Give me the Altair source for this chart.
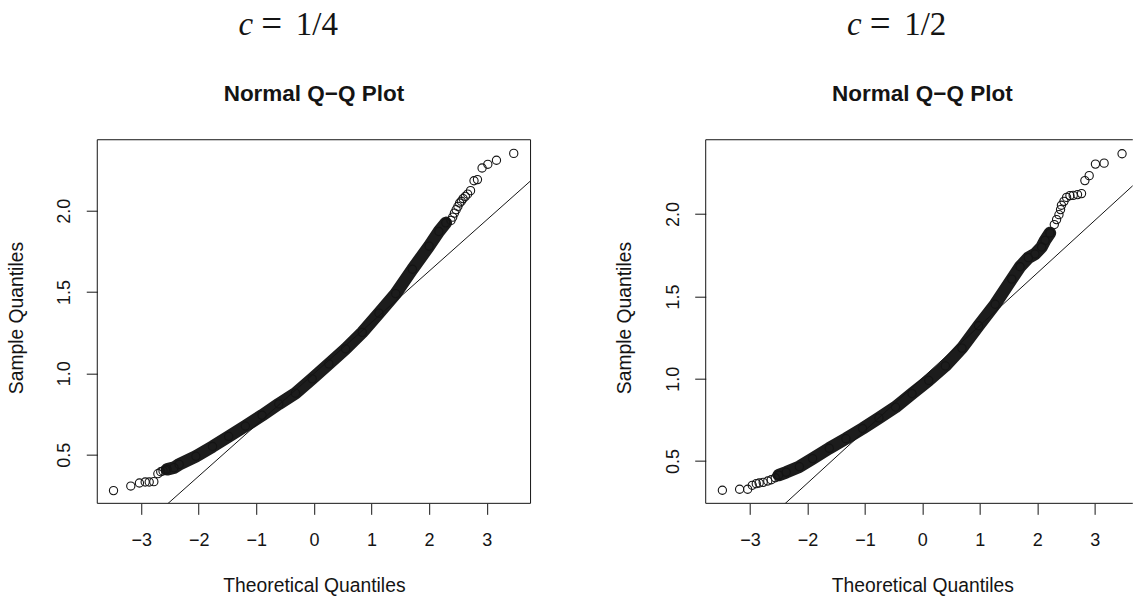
import altair as alt
import pandas as pd

# ---------------- data ----------------
# c = 1/4 panel
L_tail_lo_x = [-3.48, -3.18, -3.03, -2.93, -2.86, -2.78, -2.71, -2.66, -2.62, -2.58]
L_tail_lo_y = [0.279, 0.307, 0.326, 0.332, 0.332, 0.334, 0.383, 0.395, 0.400, 0.405]
L_band_x = [-2.55, -2.43, -2.34, -2.05, -1.76, -1.48, -1.19, -0.90, -0.61, -0.32,
            -0.03, 0.26, 0.55, 0.84, 1.13, 1.42, 1.71, 2.00, 2.17, 2.29]
L_band_y = [0.410, 0.420, 0.440, 0.490, 0.550, 0.612, 0.676, 0.742, 0.812, 0.878,
            0.966, 1.058, 1.150, 1.252, 1.370, 1.490, 1.640, 1.782, 1.872, 1.925]
L_tail_hi_x = [2.38, 2.41, 2.44, 2.47, 2.50, 2.53, 2.56, 2.59, 2.63, 2.67, 2.72,
               2.78, 2.84, 2.92, 3.02, 3.17, 3.47]
L_tail_hi_y = [1.940, 1.960, 1.985, 2.006, 2.026, 2.047, 2.058, 2.074, 2.088, 2.102,
               2.123, 2.184, 2.191, 2.262, 2.285, 2.310, 2.352]
L_line = (0.998, 0.315)          # intercept, slope of the reference line
L_xdom = [-3.762, 3.762]
L_ydom = [0.2007, 2.436]

# c = 1/2 panel (its right edge runs off the picture)
R_tail_lo_x = [-3.48, -3.18, -3.04, -2.96, -2.89, -2.84, -2.77, -2.69, -2.63, -2.56]
R_tail_lo_y = [0.323, 0.329, 0.329, 0.353, 0.363, 0.367, 0.371, 0.379, 0.387, 0.399]
R_band_x = [-2.50, -2.37, -2.14, -1.91, -1.62, -1.33, -1.04, -0.756, -0.467, -0.179,
            0.111, 0.40, 0.689, 0.978, 1.267, 1.556, 1.70, 1.845, 1.96, 2.076, 2.135, 2.22]
R_band_y = [0.415, 0.432, 0.466, 0.515, 0.578, 0.636, 0.698, 0.762, 0.828, 0.910,
            0.990, 1.078, 1.186, 1.322, 1.452, 1.605, 1.680, 1.735, 1.757, 1.800, 1.840, 1.885]
R_tail_hi_x = [2.296, 2.336, 2.377, 2.405, 2.42, 2.464, 2.51, 2.568, 2.625, 2.70,
               2.77, 2.828, 2.903, 3.012, 3.163, 3.475]
R_tail_hi_y = [1.936, 1.966, 1.996, 2.027, 2.053, 2.077, 2.101, 2.112, 2.113, 2.118,
               2.124, 2.203, 2.233, 2.303, 2.309, 2.366]
R_line = (1.004, 0.319)
R_xdom = [-3.77, 3.662]          # visible part of the panel
R_ydom = [0.2435, 2.451]

x_ticks = [-3, -2, -1, 0, 1, 2, 3]
y_ticks = [0.5, 1.0, 1.5, 2.0]
c_labels = ["1/4", "1/2"]
main_title = "Normal Q\u2212Q Plot"
x_title = "Theoretical Quantiles"
y_title = "Sample Quantiles"

W1 = 433.4
W2 = 427.2
H = 363.7
SANS = "Liberation Sans"
SERIF = "Liberation Serif"
INK = "#141414"


def txt(s, x, y, **kw):
    return alt.Chart(pd.DataFrame({"t": [s]})).mark_text(color=INK, baseline="alphabetic", **kw).encode(
        x=alt.value(x), y=alt.value(y), text="t:N")


def frame(W, right):
    # plot border (left, top, bottom and optionally right side)
    one = pd.DataFrame({"k": [0]})
    parts = [
        alt.Chart(one).mark_rule(color=INK, strokeWidth=1).encode(x=alt.value(0), y=alt.value(0), y2=alt.value(H)),
        alt.Chart(one).mark_rule(color=INK, strokeWidth=1).encode(x=alt.value(0), x2=alt.value(W), y=alt.value(0)),
        alt.Chart(one).mark_rule(color=INK, strokeWidth=1).encode(x=alt.value(0), x2=alt.value(W), y=alt.value(H)),
    ]
    if right:
        parts.append(alt.Chart(one).mark_rule(color=INK, strokeWidth=1).encode(
            x=alt.value(W), y=alt.value(0), y2=alt.value(H)))
    return parts


def panel(lo_x, lo_y, bx, by, hi_x, hi_y, line, xdom, ydom, clab, W, right):
    pts = pd.DataFrame({"x": lo_x + bx + hi_x, "y": lo_y + by + hi_y})
    band = pd.DataFrame({"x": bx, "y": by})
    a, b = line
    ref = pd.DataFrame({"x": xdom, "y": [a + b * xdom[0], a + b * xdom[1]]})

    X = alt.X("x:Q", scale=alt.Scale(domain=xdom, nice=False, zero=False),
              axis=alt.Axis(values=x_ticks, format="d", title=x_title,
                            tickSize=11, labelPadding=31, labelBaseline="alphabetic",
                            titleY=88, titleX=216.7, titleBaseline="alphabetic"))
    Y = alt.Y("y:Q", scale=alt.Scale(domain=ydom, nice=False, zero=False),
              axis=alt.Axis(values=y_ticks, format=".1f", title=y_title,
                            tickSize=11, labelPadding=16.6, labelAngle=270,
                            labelAlign="center", labelBaseline="alphabetic",
                            titleAngle=270, titleX=-75, titleY=H / 2 - 4,
                            titleBaseline="alphabetic"))

    band_l = alt.Chart(band).mark_line(strokeWidth=12.5, strokeCap="round",
                                       strokeJoin="round", color="#1c1c1c").encode(x=X, y=Y)
    pts_l = alt.Chart(pts).mark_point(shape="circle", filled=False, size=68,
                                      strokeWidth=1.1, color=INK, opacity=1).encode(x=X, y=Y)
    ref_l = alt.Chart(ref).mark_line(clip=True, color=INK, strokeWidth=1).encode(x=X, y=Y)

    t_main = txt(main_title, 216.7, -39, font=SANS, fontSize=22.5, fontWeight="bold", align="center")
    t_c = txt("c", 156, -105, font=SERIF, fontSize=33, fontStyle="italic", align="right")
    t_eq = txt("=", 164, -104, font=SERIF, fontSize=37, align="left")
    t_fr = txt(clab, 198.5, -105, font=SERIF, fontSize=33, align="left")

    layers = [band_l, pts_l, ref_l] + frame(W, right) + [t_main, t_c, t_eq, t_fr]
    return alt.layer(*layers).properties(width=W, height=H,
                                         view=alt.ViewBackground(stroke="transparent"))


p1 = panel(L_tail_lo_x, L_tail_lo_y, L_band_x, L_band_y, L_tail_hi_x, L_tail_hi_y,
           L_line, L_xdom, L_ydom, c_labels[0], W1, True)
p2 = panel(R_tail_lo_x, R_tail_lo_y, R_band_x, R_band_y, R_tail_hi_x, R_tail_hi_y,
           R_line, R_xdom, R_ydom, c_labels[1], W2, False)

chart = alt.hconcat(p1, p2, spacing=82.6).properties(
    padding={"left": 6.3, "top": 4.7, "right": 0, "bottom": 0},
    background="white",
).configure_view(stroke="transparent").configure_axis(
    domain=False, grid=False, tickColor=INK, tickWidth=1,
    labelFont=SANS, labelFontSize=18, labelColor=INK,
    titleFont=SANS, titleFontSize=19.3, titleFontWeight="normal", titleColor=INK,
)

chart.save("out.html", embed_options={"renderer": "svg", "actions": False})
